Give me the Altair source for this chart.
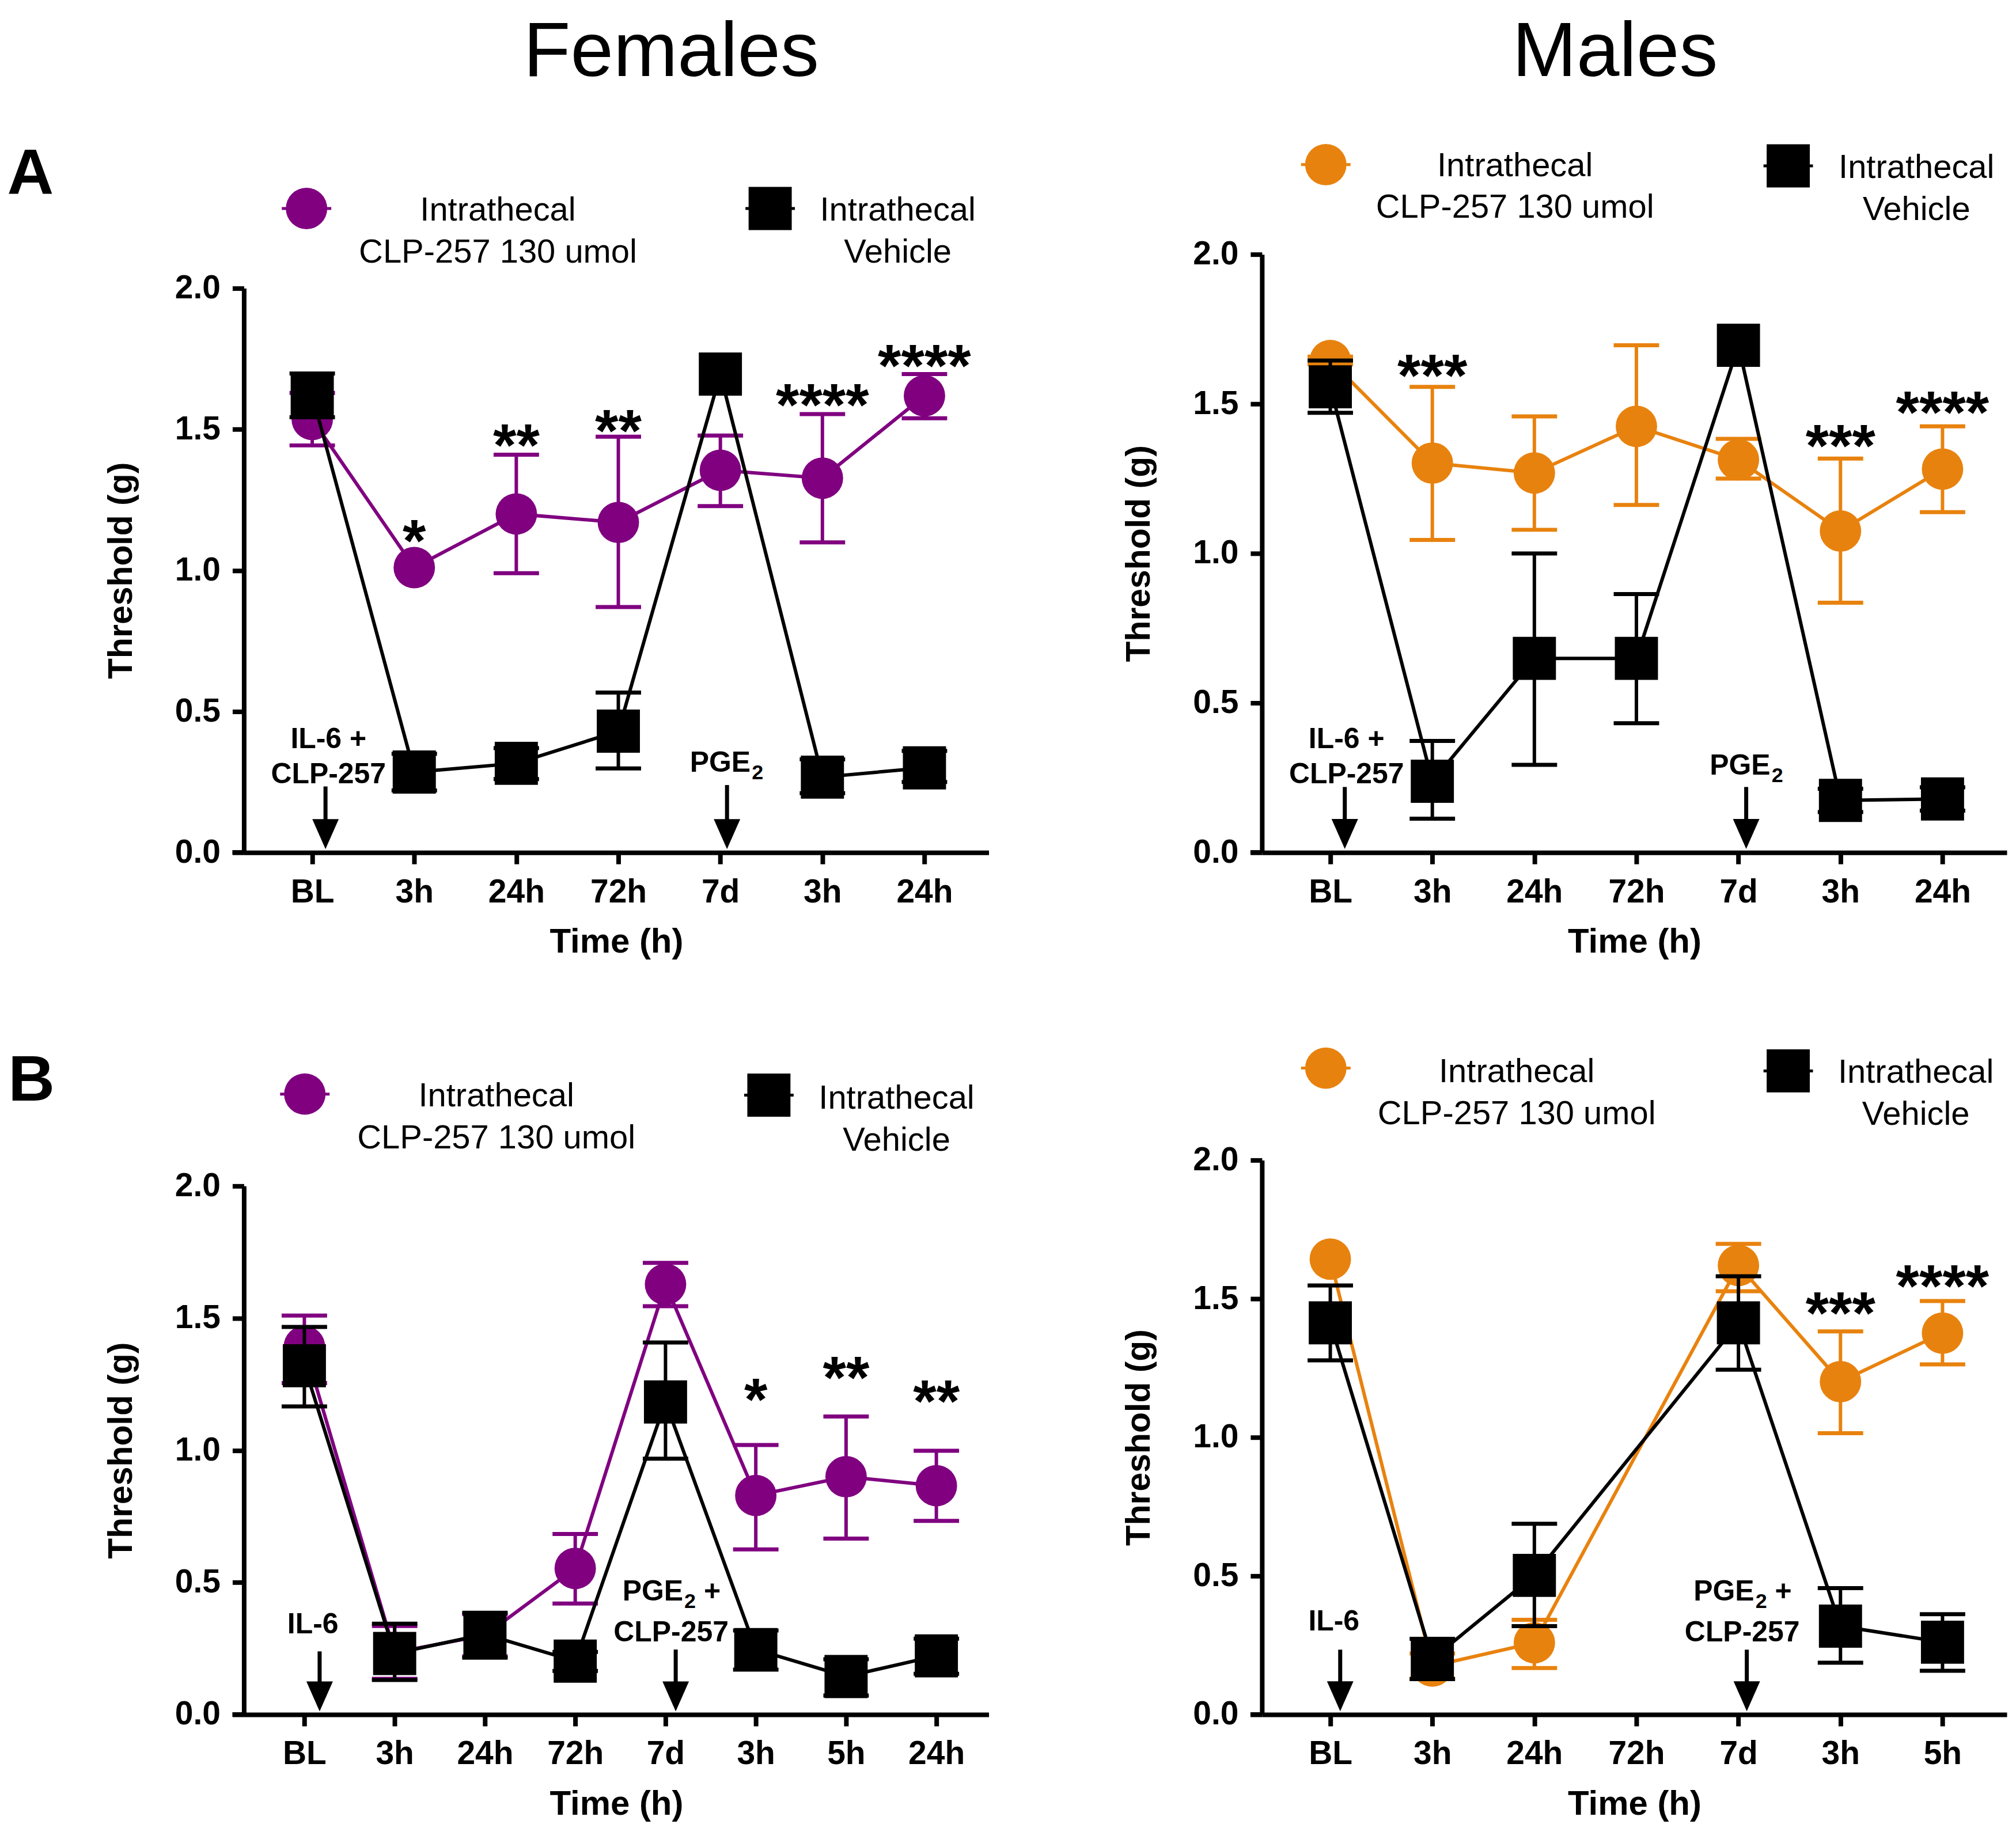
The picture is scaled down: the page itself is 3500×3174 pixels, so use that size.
import json
import altair as alt
import pandas as pd

FONT = "Liberation Sans, Arial, Helvetica, sans-serif"
PURPLE = "#800080"
ORANGE = "#E8820E"
BLACK = "#000000"

# ---------------- Panel A, females ----------------
AF_times = ["BL", "3h", "24h", "72h", "7d", "3h", "24h"]
AF_clp = [1.535, 1.01, 1.20, 1.17, 1.355, 1.327, 1.619]
AF_clp_lo = [1.443, None, 0.99, 0.87, 1.228, 1.099, 1.539]
AF_clp_hi = [1.629, None, 1.41, 1.474, 1.478, 1.554, 1.696]
AF_veh = [1.622, 0.285, 0.316, 0.43, 1.696, 0.267, 0.30]
AF_veh_lo = [1.543, 0.22, 0.26, 0.298, None, 0.21, 0.25]
AF_veh_hi = [1.698, 0.35, 0.37, 0.567, None, 0.33, 0.36]
AF_stars = ["", "*", "**", "**", "", "****", "****"]
AF_star_y = [None, 1.032, 1.370, 1.421, None, 1.513, 1.653]

# ---------------- Panel A, males ----------------
AM_times = ["BL", "3h", "24h", "72h", "7d", "3h", "24h"]
AM_clp = [1.645, 1.302, 1.269, 1.425, 1.313, 1.075, 1.282]
AM_clp_lo = [1.632, 1.045, 1.079, 1.162, 1.250, 0.835, 1.138]
AM_clp_hi = [1.658, 1.557, 1.458, 1.696, 1.383, 1.317, 1.425]
AM_veh = [1.557, 0.238, 0.649, 0.649, 1.696, 0.174, 0.179]
AM_veh_lo = [1.470, 0.113, 0.293, 0.432, None, 0.135, 0.14]
AM_veh_hi = [1.645, 0.373, 1.0, 0.864, None, 0.213, 0.218]
AM_stars = ["", "***", "", "", "", "***", "****"]
AM_star_y = [None, 1.525, None, None, None, 1.290, 1.402]

# ---------------- Panel B, females ----------------
BF_times = ["BL", "3h", "24h", "72h", "7d", "3h", "5h", "24h"]
BF_clp = [1.393, 0.235, 0.30, 0.553, 1.628, 0.829, 0.90, 0.866]
BF_clp_lo = [1.254, 0.135, 0.22, 0.42, 1.545, 0.625, 0.666, 0.733]
BF_clp_hi = [1.51, 0.335, 0.38, 0.683, 1.709, 1.02, 1.128, 0.998]
BF_veh = [1.32, 0.231, 0.304, 0.202, 1.183, 0.246, 0.144, 0.222]
BF_veh_lo = [1.166, 0.131, 0.215, 0.165, 0.968, 0.17, 0.072, 0.154]
BF_veh_hi = [1.467, 0.344, 0.385, 0.237, 1.408, 0.318, 0.209, 0.287]
BF_stars = ["", "", "", "", "", "*", "**", "**"]
BF_star_y = [None, None, None, None, None, 1.114, 1.197, 1.108]

# ---------------- Panel B, males (no 72h measurement) ----------------
BM_times = ["BL", "3h", "24h", "72h", "7d", "3h", "5h"]
BM_clp = [1.643, 0.175, 0.259, None, 1.62, 1.201, 1.376]
BM_clp_lo = [None, 0.13, 0.168, None, 1.527, 1.015, 1.263]
BM_clp_hi = [None, 0.22, 0.342, None, 1.698, 1.382, 1.492]
BM_veh = [1.413, 0.201, 0.502, None, 1.413, 0.319, 0.261]
BM_veh_lo = [1.278, 0.128, 0.319, None, 1.244, 0.187, 0.158]
BM_veh_hi = [1.548, 0.273, 0.688, None, 1.581, 0.456, 0.362]
BM_stars = ["", "", "", "", "", "***", "****"]
BM_star_y = [None, None, None, None, None, 1.373, 1.471]

LEG_CLP = "Intrathecal\nCLP-257 130 umol"
LEG_VEH = "Intrathecal\nVehicle"

W = 1295
H = 1040
XMIN = -0.67
CIRCLE_SIZE = 72 * 72
SQUARE_SIZE = 75 * 75
ARROW_PATH = "M-0.885,-2L0.885,-2L0,0Z"
LW = 6
NOTE_FS = 50
SUB_FS = 36


def series_frames(vals, lo, hi):
    pts = pd.DataFrame({"i": list(range(len(vals))), "v": vals, "lo": lo, "hi": hi})
    pts = pts[pts["v"].notna()]
    eb = pts[pts["lo"].notna()]
    caps = pd.concat([
        pd.DataFrame({"i": eb["i"], "e": eb["lo"]}),
        pd.DataFrame({"i": eb["i"], "e": eb["hi"]}),
    ])
    return pts, eb, caps


def panel(times, clp, clp_lo, clp_hi, veh, veh_lo, veh_hi, color, xmax, ytop,
          stars, star_y, arrows, notes, legend, texts):
    n = len(times)
    xs = alt.Scale(domain=[XMIN, xmax], nice=False, zero=False)
    ys = alt.Scale(domain=[0, 2], range=[H, ytop], nice=False, zero=False)
    xaxis = alt.Axis(values=list(range(n)), labelExpr=json.dumps(times) + "[datum.value]",
                     title="Time (h)", labelPadding=66, labelBaseline="alphabetic",
                     titlePadding=30, titleFontSize=60, labelFlush=False, labelOverlap=False)
    yaxis = alt.Axis(values=[0, 0.5, 1.0, 1.5, 2.0], format=".1f", title="Threshold (g)",
                     labelPadding=21, titlePadding=63, titleFontSize=59,
                     labelOverlap=False, labelFlush=False)

    def X(f):
        return alt.X(f, type="quantitative", scale=xs, axis=xaxis)

    def Y(f):
        return alt.Y(f, type="quantitative", scale=ys, axis=yaxis)

    layers = []
    # short extension of the x axis line to the left of the y axis (Prism style corner)
    ext = pd.DataFrame({"x1": [XMIN - 20 * (xmax - XMIN) / W], "x2": [XMIN], "y": [0.0]})
    layers.append(alt.Chart(ext).mark_rule(color=BLACK, strokeWidth=8).encode(
        x=X("x1"), x2="x2", y=Y("y")))

    for vals, lo, hi, col, shape, size in [
        (clp, clp_lo, clp_hi, color, "circle", CIRCLE_SIZE),
        (veh, veh_lo, veh_hi, BLACK, "square", SQUARE_SIZE),
    ]:
        pts, eb, caps = series_frames(vals, lo, hi)
        line = alt.Chart(pts).mark_line(color=col, strokeWidth=LW).encode(x=X("i"), y=Y("v"))
        rule = alt.Chart(eb).mark_rule(color=col, strokeWidth=LW).encode(
            x=X("i"), y=Y("lo"), y2="hi")
        cap = alt.Chart(caps).mark_tick(orient="horizontal", size=79, thickness=7,
                                       color=col, opacity=1).encode(x=X("i"), y=Y("e"))
        pt = alt.Chart(pts).mark_point(shape=shape, filled=True, size=size, color=col,
                                       opacity=1, strokeWidth=0).encode(x=X("i"), y=Y("v"))
        layers += [line, rule, cap, pt]

    st = pd.DataFrame({"i": list(range(n)), "s": stars, "y": star_y})
    st = st[st["y"].notna()]
    layers.append(alt.Chart(st).mark_text(font=FONT, fontSize=104, fontWeight="bold",
                                          color=BLACK, align="center", baseline="alphabetic")
                  .encode(x=X("i"), y=Y("y"), text="s:N"))

    ar = pd.DataFrame({"x": [a[0] for a in arrows], "top": [a[1] for a in arrows],
                       "bot": [0.06] * len(arrows), "tip": [0.012] * len(arrows)})
    layers.append(alt.Chart(ar).mark_rule(color=BLACK, strokeWidth=7).encode(
        x=X("x"), y=Y("top"), y2="bot"))
    layers.append(alt.Chart(ar).mark_point(shape=ARROW_PATH, filled=True, size=2704,
                                           color=BLACK, opacity=1, strokeWidth=0)
                  .encode(x=X("x"), y=Y("tip")))

    # annotation texts: (x, y, text, fontSize, align, dx, dy)
    for (x, y, t, fs, al, dx, dy) in notes:
        nt = pd.DataFrame({"x": [x], "y": [y], "t": [t]})
        layers.append(alt.Chart(nt).mark_text(font=FONT, fontSize=fs, fontWeight="bold",
                                              color=BLACK, align=al, baseline="alphabetic",
                                              lineBreak="\n", lineHeight=61, dx=dx, dy=dy)
                      .encode(x=X("x"), y=Y("y"), text="t:N"))

    # legend
    (cx, cy, tx1, ty1), (sx, sy, tx2, ty2) = legend
    lm = pd.DataFrame({"x": [cx, sx], "y": [cy, sy]})
    layers.append(alt.Chart(lm.iloc[[0]]).mark_tick(orient="horizontal", size=86, thickness=5,
                                                     color=color, opacity=1)
                  .encode(x=X("x"), y=Y("y")))
    layers.append(alt.Chart(lm.iloc[[0]]).mark_point(shape="circle", filled=True, size=CIRCLE_SIZE,
                                                      color=color, opacity=1, strokeWidth=0)
                  .encode(x=X("x"), y=Y("y")))
    layers.append(alt.Chart(lm.iloc[[1]]).mark_tick(orient="horizontal", size=86, thickness=5,
                                                     color=BLACK, opacity=1)
                  .encode(x=X("x"), y=Y("y")))
    layers.append(alt.Chart(lm.iloc[[1]]).mark_point(shape="square", filled=True, size=SQUARE_SIZE,
                                                      color=BLACK, opacity=1, strokeWidth=0)
                  .encode(x=X("x"), y=Y("y")))
    lt = pd.DataFrame({"x": [tx1, tx2], "y": [ty1, ty2], "t": [LEG_CLP, LEG_VEH]})
    layers.append(alt.Chart(lt).mark_text(font=FONT, fontSize=58, color=BLACK, align="center",
                                          baseline="alphabetic", lineBreak="\n", lineHeight=73)
                  .encode(x=X("x"), y=Y("y"), text="t:N"))

    # headings / panel letters
    for (x, y, t, fs, fw, al) in texts:
        td = pd.DataFrame({"x": [x], "y": [y], "t": [t]})
        layers.append(alt.Chart(td).mark_text(font=FONT, fontSize=fs, fontWeight=fw,
                                              color=BLACK, align=al, baseline="alphabetic")
                      .encode(x=X("x"), y=Y("y"), text="t:N"))

    return alt.layer(*layers).properties(width=W, height=H)


def pge(x, y):
    """'PGE' with a lowered subscript 2, centred on x."""
    return [(x, y, "PGE", NOTE_FS, "right", 43, 0), (x, y, "2", SUB_FS, "left", 45, 13)]


def pge_plus(x, y):
    """'PGE2 +' over 'CLP-257', centred on x."""
    return [(x, y, "PGE", NOTE_FS, "right", 21, 0), (x, y, "2", SUB_FS, "left", 23, 13),
            (x, y, "+", NOTE_FS, "left", 57, 0), (x, y, "CLP-257", NOTE_FS, "center", 0, 71)]


AF = panel(AF_times, AF_clp, AF_clp_lo, AF_clp_hi, AF_veh, AF_veh_lo, AF_veh_hi, PURPLE,
           6.63, 59, AF_stars, AF_star_y,
           arrows=[(0.130, 0.234), (4.065, 0.239)],
           notes=[(0.159, 0.369, "IL-6 +\nCLP-257", NOTE_FS, "center", 0, 0)] + pge(4.054, 0.287),
           legend=[(-0.056, 2.283, 1.82, 2.239), (4.488, 2.283, 5.739, 2.239)],
           texts=[(3.518, 2.752, "Females", 134, "normal", "center"),
                  (-2.99, 2.334, "A", 112, "bold", "left")])

AM = panel(AM_times, AM_clp, AM_clp_lo, AM_clp_hi, AM_veh, AM_veh_lo, AM_veh_hi, ORANGE,
           6.63, 0, AM_stars, AM_star_y,
           arrows=[(0.142, 0.219), (4.076, 0.219)],
           notes=[(0.159, 0.348, "IL-6 +\nCLP-257", NOTE_FS, "center", 0, 0)] + pge(4.071, 0.26),
           legend=[(-0.044, 2.300, 1.810, 2.262), (4.488, 2.296, 5.745, 2.256)],
           texts=[(2.791, 2.596, "Males", 134, "normal", "center")])

BF = panel(BF_times, BF_clp, BF_clp_lo, BF_clp_hi, BF_veh, BF_veh_lo, BF_veh_hi, PURPLE,
           7.58, 121, BF_stars, BF_star_y,
           arrows=[(0.169, 0.239), (4.113, 0.246)],
           notes=[(0.094, 0.307, "IL-6", NOTE_FS, "center", 0, 0)] + pge_plus(4.062, 0.431),
           legend=[(0.005, 2.348, 2.126, 2.302), (5.145, 2.344, 6.559, 2.292)],
           texts=[(-3.28, 2.324, "B", 112, "bold", "left")])

BM = panel(BM_times, BM_clp, BM_clp_lo, BM_clp_hi, BM_veh, BM_veh_lo, BM_veh_hi, ORANGE,
           6.63, 76, BM_stars, BM_star_y,
           arrows=[(0.097, 0.234), (4.082, 0.234)],
           notes=[(0.035, 0.303, "IL-6", NOTE_FS, "center", 0, 0)] + pge_plus(4.037, 0.411),
           legend=[(-0.044, 2.332, 1.827, 2.282), (4.488, 2.322, 5.739, 2.280)],
           texts=[])

chart = alt.concat(AF, AM, BF, BM, columns=2, spacing={"row": 459, "column": 475},
                   bounds="flush").properties(
    autosize=alt.AutoSizeParams(type="none"),
    padding={"left": 416, "top": 432, "right": 3073, "bottom": 2726},
).configure_view(stroke=None).configure_axis(
    domainColor=BLACK, domainWidth=8, tickColor=BLACK, tickWidth=8, tickSize=20,
    labelFont=FONT, labelFontSize=57, labelFontWeight="bold", labelColor=BLACK,
    titleFont=FONT, titleFontWeight="bold", titleColor=BLACK, grid=False,
)

chart.save("out.html", embed_options={"renderer": "svg", "actions": False})
